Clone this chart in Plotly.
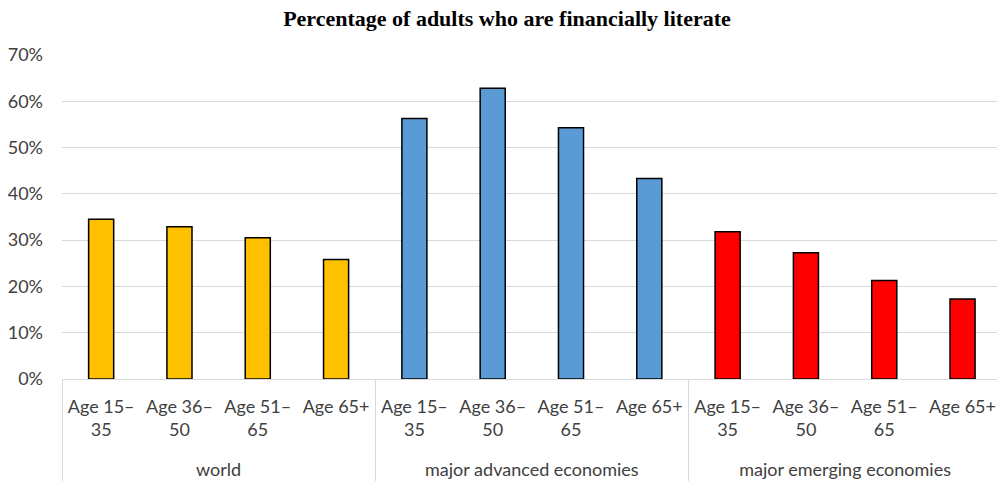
import plotly.graph_objects as go

groups = ["world", "major advanced economies", "major emerging economies"]
ages = ["Age 15–<br>35", "Age 36–<br>50", "Age 51–<br>65", "Age 65+"]
world = [0.345, 0.329, 0.305, 0.258]
advanced = [0.563, 0.628, 0.543, 0.433]
emerging = [0.318, 0.273, 0.213, 0.173]
colors = ["#FFC000", "#5B9BD5", "#FF0000"]
y_ticks = [0, 0.1, 0.2, 0.3, 0.4, 0.5, 0.6, 0.7]

labels, y_vals, bar_colors, group_of = [], [], [], []
for g, vals, c in zip(groups, [world, advanced, emerging], colors):
    for a, v in zip(ages, vals):
        labels.append(a)
        y_vals.append(v)
        bar_colors.append(c)
        group_of.append(g)

pos = list(range(len(labels)))
n_age = len(ages)
group_centers = [i * n_age + (n_age - 1) / 2 for i in range(len(groups))]
group_edges = [i * n_age - 0.5 for i in range(len(groups))]

fig = go.Figure(go.Bar(
    x=pos,
    y=y_vals,
    marker=dict(color=bar_colors, line=dict(color="black", width=1.5)),
    customdata=[[g, l.replace("<br>", "")] for g, l in zip(group_of, labels)],
    hovertemplate="%{customdata[0]}, %{customdata[1]}: %{y:.1%}<extra></extra>",
))
# helper traces to activate overlay axes
fig.add_trace(go.Scatter(x=[pos[0]], y=[0], xaxis="x2", mode="markers",
                         marker=dict(opacity=0), hoverinfo="skip", showlegend=False))
fig.add_trace(go.Scatter(x=[pos[0]], y=[0], xaxis="x3", mode="markers",
                         marker=dict(opacity=0), hoverinfo="skip", showlegend=False))

xr = [-0.5, 11.44]
fig.update_layout(
    width=997, height=481,
    margin=dict(l=62, r=0, t=55, b=102, autoexpand=False),
    paper_bgcolor="white", plot_bgcolor="white",
    bargap=0.68,
    showlegend=False,
    font=dict(family="Lato", size=18, color="#404040"),
    title=dict(
        text="<b>Percentage of adults who are financially literate</b>",
        font=dict(family="Liberation Serif", size=22, color="black"),
        x=0.5085, xanchor="center", xref="container",
        y=1 - 18 / 481, yanchor="middle", yref="container",
    ),
    xaxis=dict(
        range=xr, tickvals=pos, ticktext=labels, automargin=False,
        showline=True, linecolor="#d9d9d9", linewidth=1,
        showgrid=False, zeroline=False, ticks="",
        ticklabelstandoff=11,
        tickfont=dict(size=18, color="#404040"),
    ),
    xaxis2=dict(
        overlaying="x", side="bottom", anchor="y", range=xr, automargin=False,
        tickvals=group_centers, ticktext=groups,
        showline=False, showgrid=False, zeroline=False, ticks="",
        ticklabelstandoff=78,
        tickfont=dict(size=18, color="#404040"),
    ),
    xaxis3=dict(
        overlaying="x", side="bottom", anchor="y", range=xr, automargin=False,
        tickvals=group_edges, showticklabels=False,
        showline=False, showgrid=False, zeroline=False,
        ticks="outside", ticklen=102, tickwidth=1, tickcolor="#d9d9d9",
    ),
    yaxis=dict(
        range=[0, 0.7], automargin=False,
        tickvals=y_ticks,
        tickformat=".0%",
        showgrid=True, gridcolor="#d9d9d9", gridwidth=1,
        zeroline=False, showline=False,
        ticklabelstandoff=18,
        tickfont=dict(size=18, color="#404040"),
    ),
)

fig.write_html("out.html")
